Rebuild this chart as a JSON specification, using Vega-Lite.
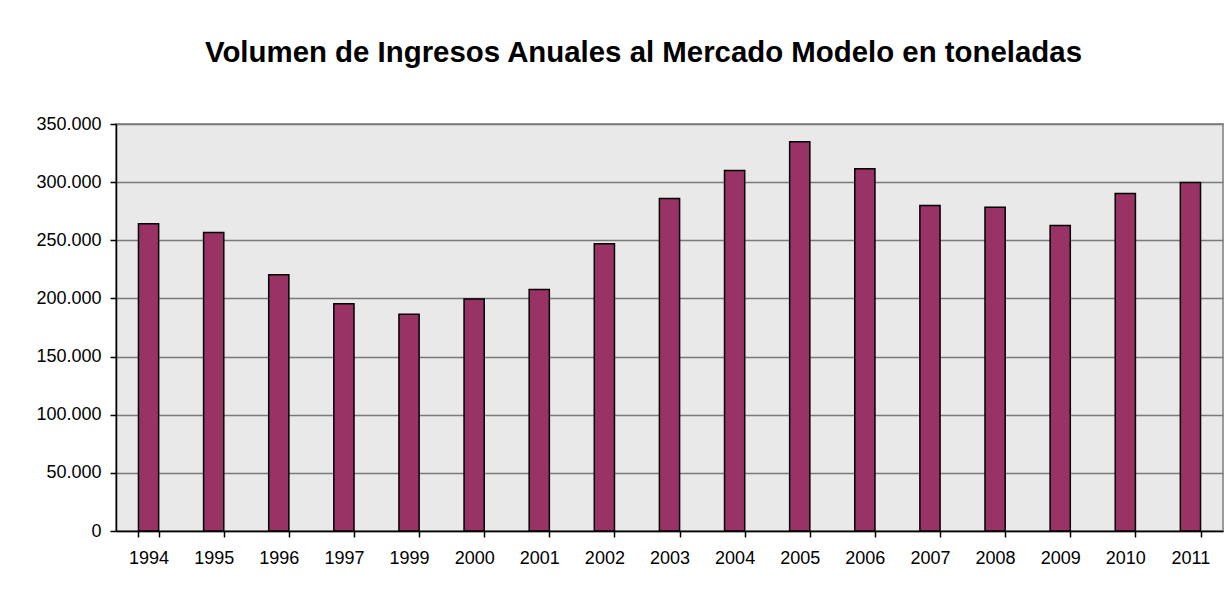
{
  "$schema": "https://vega.github.io/schema/vega-lite/v6.json",
  "width": 1107,
  "height": 407,
  "autosize": {"type": "none"},
  "padding": {"left": 116, "top": 124, "right": 8, "bottom": 63},
  "background": "white",
  "title": {
    "text": "Volumen de Ingresos Anuales al Mercado Modelo en toneladas",
    "font": "Liberation Sans",
    "fontSize": 29.4,
    "fontWeight": "bold",
    "color": "black",
    "anchor": "middle",
    "dx": -26,
    "offset": 47
  },
  "config": {
    "locale": {"number": {"decimal": ",", "thousands": ".", "grouping": [3], "currency": ["", ""]}},
    "view": {"fill": "#e9e9e9", "stroke": "#9a9a9a", "strokeWidth": 2}
  },
  "data": {
    "values": [
      {"year": "1994", "tons": 264200},
      {"year": "1995", "tons": 256700},
      {"year": "1996", "tons": 220300},
      {"year": "1997", "tons": 195400},
      {"year": "1999", "tons": 186500},
      {"year": "2000", "tons": 199600},
      {"year": "2001", "tons": 207700},
      {"year": "2002", "tons": 247000},
      {"year": "2003", "tons": 286000},
      {"year": "2004", "tons": 310000},
      {"year": "2005", "tons": 334800},
      {"year": "2006", "tons": 311500},
      {"year": "2007", "tons": 280000},
      {"year": "2008", "tons": 278500},
      {"year": "2009", "tons": 262700},
      {"year": "2010", "tons": 290300},
      {"year": "2011", "tons": 299700}
    ]
  },
  "mark": {"type": "bar", "fill": "#993366", "stroke": "black", "strokeWidth": 1.5},
  "encoding": {
    "x": {
      "field": "year",
      "type": "ordinal",
      "sort": null,
      "scale": {"paddingInner": 0.69, "paddingOuter": 0.345},
      "axis": {
        "title": null,
        "labelAngle": 0,
        "tickBand": "extent",
        "domainColor": "black",
        "domainWidth": 1.5,
        "tickColor": "black",
        "tickWidth": 1.5,
        "tickSize": 6,
        "labelFont": "Liberation Sans",
        "labelFontSize": 18,
        "labelColor": "black",
        "labelPadding": 12,
        "grid": false
      }
    },
    "y": {
      "field": "tons",
      "type": "quantitative",
      "scale": {"domain": [0, 350000]},
      "axis": {
        "title": null,
        "values": [0, 50000, 100000, 150000, 200000, 250000, 300000, 350000],
        "format": ",.0f",
        "domainColor": "black",
        "domainWidth": 1.5,
        "tickColor": "black",
        "tickWidth": 1.5,
        "tickSize": 6,
        "labelFont": "Liberation Sans",
        "labelFontSize": 18,
        "labelColor": "black",
        "labelPadding": 9,
        "grid": true,
        "gridColor": "#7a7a7a",
        "gridWidth": 1.5
      }
    }
  }
}
